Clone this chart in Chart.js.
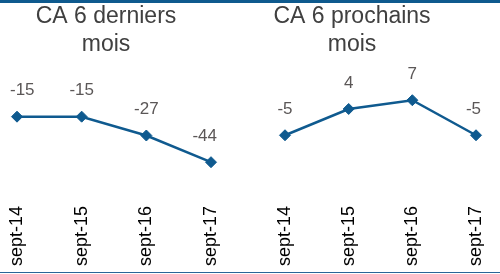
<!DOCTYPE html>
<html lang="fr">
<head>
    <meta charset="UTF-8"/>
    <title>CA 6 derniers / prochains mois</title>
    <script src="https://cdn.jsdelivr.net/npm/chart.js"></script>
    <style>
        html, body {
            margin: 0;
            padding: 0;
            background: #fff;
            width: 500px;
            height: 274px;
            overflow: hidden;
            font-family: 'Liberation Sans', Arial, sans-serif;
        }
        .frame {
            position: relative;
            width: 500px;
            height: 274px;
        }
        .rule-top {
            position: absolute;
            left: 0; top: 0;
            width: 500px; height: 3px;
            background: #0e5a8e;
        }
        .rule-bottom {
            position: absolute;
            left: 0; top: 272px;
            width: 500px; height: 1px;
            background: #2a6597;
        }
        .panel {
            position: absolute;
            top: 0;
            height: 274px;
        }
        #pastPanel { left: -8px; width: 228px; }
        #nextPanel { left: 220px; width: 264px; }
    </style>
</head>
<body>
<div class="frame">
    <div class="panel" id="pastPanel"><canvas id="pastChart"></canvas></div>
    <div class="panel" id="nextPanel"><canvas id="nextChart"></canvas></div>
    <div class="rule-top"></div>
    <div class="rule-bottom"></div>
</div>

<script>
    // données
    const categories = ['sept-14', 'sept-15', 'sept-16', 'sept-17'];
    const pastValues = [-15, -15, -27, -44];
    const nextValues = [-5, 4, 7, -5];
    const pastTitle = ['CA 6 derniers', 'mois'];
    const nextTitle = ['CA 6 prochains', 'mois'];

    const lineColor = '#0f5a8f';
    const fontFamily = "'Liberation Sans', Arial, sans-serif";

    // étiquettes de valeur au-dessus des points (gardées dans le canvas)
    const valueLabels = {
        id: 'valueLabels',
        afterDatasetsDraw(chart) {
            const ctx = chart.ctx;
            const meta = chart.getDatasetMeta(0);
            const values = chart.data.datasets[0].data;
            ctx.save();
            ctx.font = '17px ' + fontFamily;
            ctx.fillStyle = '#5b5757';
            ctx.textAlign = 'center';
            ctx.textBaseline = 'middle';
            meta.data.forEach((pt, i) => {
                const txt = String(values[i]);
                const half = ctx.measureText(txt).width / 2;
                let x = Math.max(pt.x, 18 + half);
                x = Math.min(x, chart.width - 3 - half);
                ctx.fillText(txt, x, pt.y - 26);
            });
            ctx.restore();
        }
    };

    // axe invisible qui ne sert qu'à réserver une marge
    function spacer(position, width, extra) {
        return Object.assign({
            position: position,
            display: true,
            grid: { display: false, drawTicks: false },
            border: { display: false },
            ticks: { display: false },
            afterFit: scale => { scale.width = width; }
        }, extra || {});
    }

    function makeChart(canvasId, title, values, yMin, yMax, padLeft, padRight) {
        return new Chart(document.getElementById(canvasId), {
            type: 'line',
            data: {
                labels: categories,
                datasets: [{
                    data: values,
                    yAxisID: 'y',
                    borderColor: lineColor,
                    backgroundColor: lineColor,
                    borderWidth: 2.5,
                    pointStyle: 'rectRot',
                    pointRadius: 5.5,
                    pointBorderWidth: 1,
                    pointBackgroundColor: lineColor,
                    pointBorderColor: lineColor,
                    tension: 0,
                    clip: false
                }]
            },
            options: {
                responsive: true,
                maintainAspectRatio: false,
                animation: false,
                layout: { padding: 0 },
                scales: {
                    x: {
                        offset: false,
                        grid: { display: false, drawTicks: false },
                        border: { display: false },
                        ticks: {
                            color: '#000',
                            font: { family: fontFamily, size: 18 },
                            minRotation: 90,
                            maxRotation: 90,
                            autoSkip: false,
                            padding: 3
                        },
                        afterFit: scale => {
                            scale.height = 71;
                            scale.paddingLeft = 0;
                            scale.paddingRight = 0;
                        }
                    },
                    y: spacer('left', padLeft, { min: yMin, max: yMax }),
                    yRight: spacer('right', padRight, { type: 'linear' })
                },
                plugins: {
                    legend: { display: false },
                    tooltip: { enabled: false },
                    title: {
                        display: true,
                        text: title,
                        color: '#404040',
                        font: { family: fontFamily, size: 23, weight: 'normal', lineHeight: 28 / 23 },
                        padding: { top: 3, bottom: 31 }
                    }
                }
            },
            plugins: [valueLabels]
        });
    }

    makeChart('pastChart', pastTitle, pastValues, -70, 2, 25, 9);
    makeChart('nextChart', nextTitle, nextValues, -28.2, 10.5, 65, 8);
</script>
</body>
</html>
